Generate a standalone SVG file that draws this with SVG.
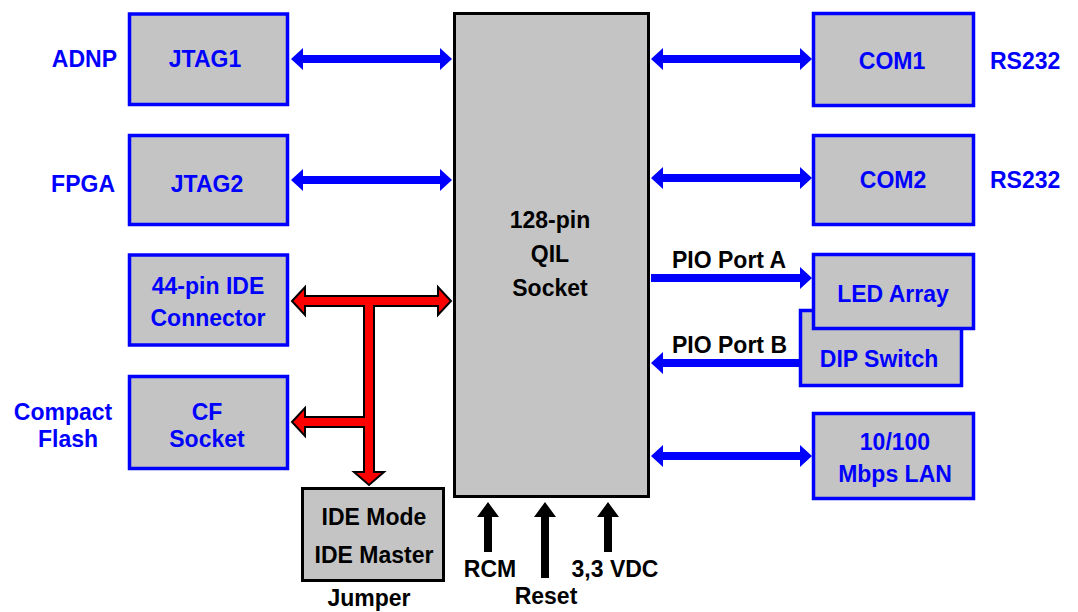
<svg xmlns="http://www.w3.org/2000/svg" xmlns:xlink="http://www.w3.org/1999/xlink" width="1078" height="612" viewBox="0 0 1078 612">
<style>
text{font-family:"Liberation Sans",Arial,sans-serif;font-weight:bold;font-size:23px}
.b{fill:#0000ff}
.k{fill:#000000}
.m{text-anchor:middle}
.e{text-anchor:end}
.box{fill:#c4c4c4;stroke:#0000ff;stroke-width:3.5}
.kbox{fill:#c4c4c4;stroke:#000000;stroke-width:3}
.barrow{fill:#0000ff}
.karrow{fill:#000000}
.red{fill:#ff0000;stroke:#000000;stroke-width:2;stroke-linejoin:miter}
</style>
<defs>
<path id="dbl" d="M0,0 L12,-11 L12,-4 L149,-4 L149,-11 L161,0 L149,11 L149,4 L12,4 L12,11 Z"/>
<path id="up" d="M0,0 L11,15 L4,15 L4,50 L-4,50 L-4,15 L-11,15 Z"/>
</defs>
<rect width="1078" height="612" fill="#ffffff"/>

<g id="socket">
<rect class="kbox" x="454.5" y="13.5" width="194" height="483"/>
<text class="k m" x="550" y="228">128-pin</text>
<text class="k m" x="550" y="262">QIL</text>
<text class="k m" x="550" y="296">Socket</text>
</g>

<g id="jtag1">
<rect class="box" x="129.5" y="14" width="158" height="90.5"/>
<text class="b m" x="205" y="67">JTAG1</text>
</g>
<g id="jtag2">
<rect class="box" x="129.5" y="135.5" width="158" height="89"/>
<text class="b m" x="207" y="192">JTAG2</text>
</g>
<g id="ide">
<rect class="box" x="129.5" y="255" width="158" height="90"/>
<text class="b m" x="208" y="294">44-pin IDE</text>
<text class="b m" x="208" y="326">Connector</text>
</g>
<g id="cf">
<rect class="box" x="129.5" y="376.5" width="158" height="92"/>
<text class="b m" x="207" y="420">CF</text>
<text class="b m" x="207" y="447">Socket</text>
</g>
<g id="com1">
<rect class="box" x="813.5" y="13.5" width="160" height="92"/>
<text class="b m" x="892" y="69">COM1</text>
</g>
<g id="com2">
<rect class="box" x="813.5" y="135.5" width="160" height="89"/>
<text class="b m" x="893" y="188">COM2</text>
</g>
<g id="dip">
<rect class="box" x="800.5" y="310.5" width="161" height="75"/>
<text class="b m" x="879" y="367">DIP Switch</text>
</g>
<g id="led">
<rect class="box" x="813.5" y="254.5" width="160" height="74"/>
<text class="b m" x="893" y="302">LED Array</text>
</g>
<g id="lan">
<rect class="box" x="813.5" y="413.5" width="160" height="85"/>
<text class="b m" x="895" y="450">10/100</text>
<text class="b m" x="895" y="482">Mbps LAN</text>
</g>
<g id="jumper">
<rect class="kbox" x="302.5" y="488.5" width="141" height="92"/>
<text class="k m" x="374" y="525">IDE Mode</text>
<text class="k m" x="374" y="563">IDE Master</text>
</g>

<g id="labels">
<text class="b e" x="117" y="67">ADNP</text>
<text class="b e" x="115" y="192">FPGA</text>
<text class="b m" x="63" y="420">Compact</text>
<text class="b m" x="68" y="447">Flash</text>
<text class="b" x="990" y="69">RS232</text>
<text class="b" x="990" y="188">RS232</text>
<text class="k" x="672" y="268">PIO Port A</text>
<text class="k" x="672" y="353">PIO Port B</text>
<text class="k m" x="490" y="577">RCM</text>
<text class="k m" x="546" y="604">Reset</text>
<text class="k m" x="615" y="577">3,3 VDC</text>
<text class="k m" x="369" y="606">Jumper</text>
</g>

<g id="connectors">
<use xlink:href="#dbl" class="barrow" transform="translate(291,59)"/>
<use xlink:href="#dbl" class="barrow" transform="translate(291,180)"/>
<use xlink:href="#dbl" class="barrow" transform="translate(651,59)"/>
<use xlink:href="#dbl" class="barrow" transform="translate(651,178)"/>
<use xlink:href="#dbl" class="barrow" transform="translate(651,456)"/>
<path class="barrow" d="M651,274 L800,274 L800,267 L812,278 L800,289 L800,282 L651,282 Z"/>
<path class="barrow" d="M799,359 L663,359 L663,352 L651,363 L663,374 L663,367 L799,367 Z"/>
<use xlink:href="#up" class="karrow" transform="translate(488,502)"/>
<path class="karrow" d="M545,502 L556,517 L549,517 L549,578 L541,578 L541,517 L534,517 Z"/>
<use xlink:href="#up" class="karrow" transform="translate(608,502)"/>
<path class="red" d="M292,301 L305,287 L305,296 L438,296 L438,287 L451,301 L438,315 L438,306 L374,306 L374,472 L384,472 L369,485 L354,472 L364,472 L364,427 L305,427 L305,436 L292,422 L305,408 L305,417 L364,417 L364,306 L305,306 L305,315 Z"/>
</g>
</svg>
